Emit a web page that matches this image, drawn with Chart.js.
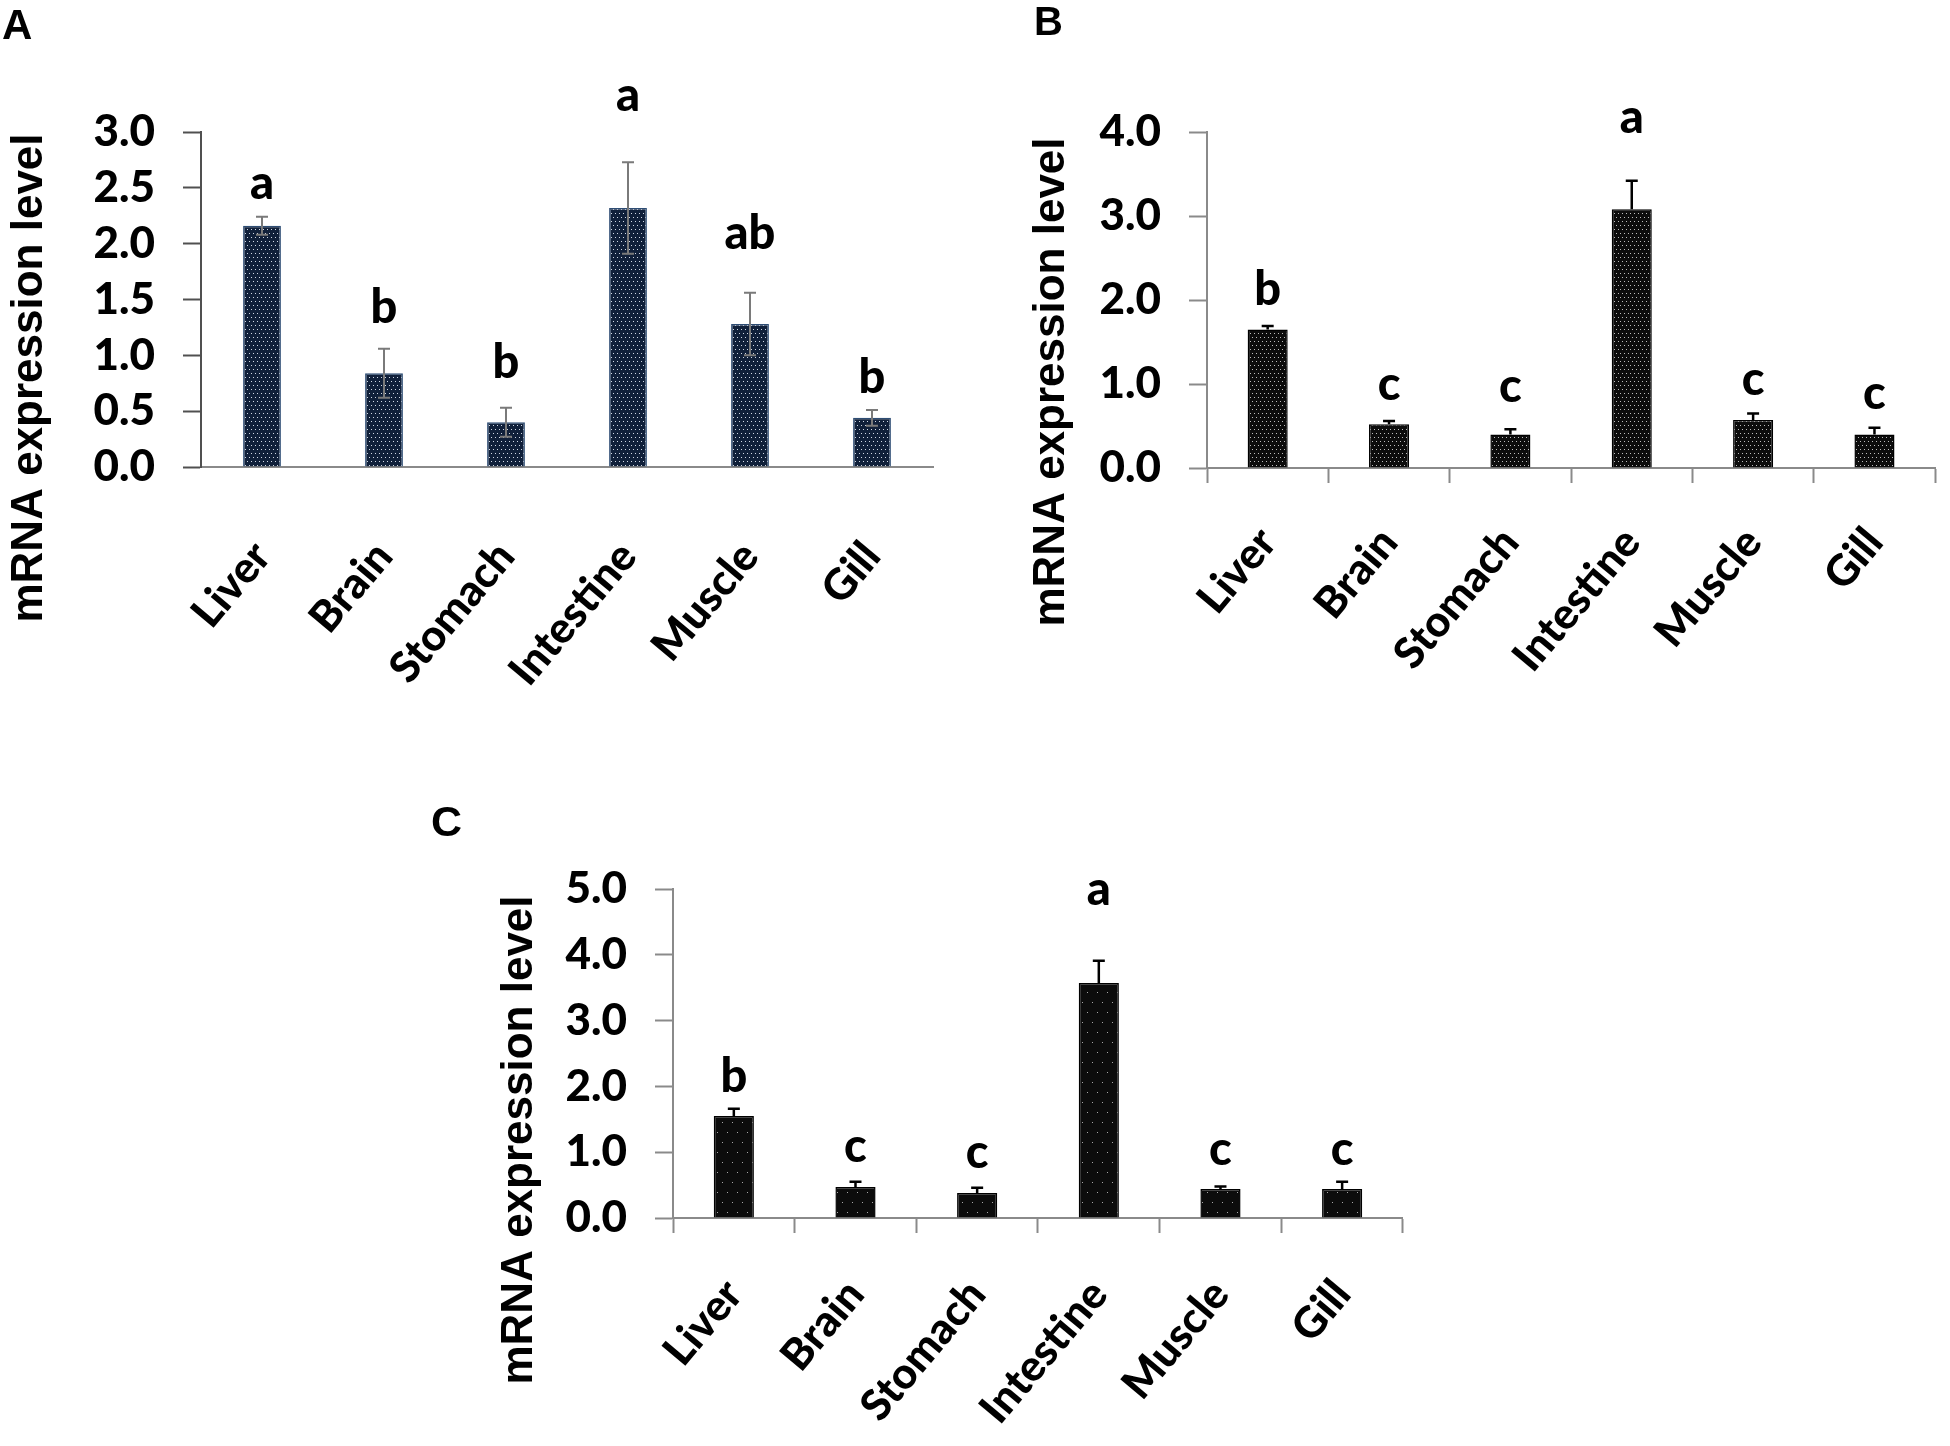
<!DOCTYPE html>
<html lang="en">
<head>
<meta charset="utf-8">
<title>mRNA expression level by tissue</title>
<script src="https://cdn.jsdelivr.net/npm/chart.js@4/dist/chart.umd.min.js"></script>
<style>
  html, body { margin: 0; padding: 0; background: #fff; }
  body { width: 1950px; height: 1446px; position: relative; overflow: hidden; }
  .panel { position: absolute; }
  .panel canvas { display: block; }
</style>
</head>
<body>
<div class="panel" style="left:0;top:0"><canvas id="panel-a" width="975" height="720"></canvas></div>
<div class="panel" style="left:975px;top:0"><canvas id="panel-b" width="975" height="720"></canvas></div>
<div class="panel" style="left:420px;top:780px"><canvas id="panel-c" width="1000" height="666"></canvas></div>
<script>
// Tissues, same order in the three panels
const TISSUES = ['Liver', 'Brain', 'Stomach', 'Intestine', 'Muscle', 'Gill'];
const Y_TITLE = 'mRNA expression level';

// Panel A
const MEAN_A = [2.16, 0.84, 0.40, 2.32, 1.28, 0.44];
const SD_A = [0.08, 0.22, 0.13, 0.41, 0.28, 0.07];
const GROUP_A = ['a', 'b', 'b', 'a', 'ab', 'b'];
const GROUP_AT_A = [2.40, 1.29, 0.80, 3.19, 1.95, 0.66];
const Y_MAX_A = 3.0;
const Y_STEP_A = 0.5;

// Panel B
const MEAN_B = [1.65, 0.52, 0.40, 3.08, 0.57, 0.40];
const SD_B = [0.04, 0.04, 0.06, 0.34, 0.08, 0.08];
const GROUP_B = ['b', 'c', 'c', 'a', 'c', 'c'];
const GROUP_AT_B = [1.94, 0.81, 0.79, 3.99, 0.87, 0.70];
const Y_MAX_B = 4.0;
const Y_STEP_B = 1.0;

// Panel C
const MEAN_C = [1.55, 0.47, 0.38, 3.57, 0.44, 0.44];
const SD_C = [0.11, 0.08, 0.08, 0.34, 0.04, 0.11];
const GROUP_C = ['b', 'c', 'c', 'a', 'c', 'c'];
const GROUP_AT_C = [1.91, 0.85, 0.76, 4.76, 0.81, 0.81];
const Y_MAX_C = 5.0;
const Y_STEP_C = 1.0;

const FONT_CALIBRI = 'Lato, "Open Sans", sans-serif';
const FONT_ARIAL = '"Liberation Sans", Arial, sans-serif';

// Dotted fill like the Excel pattern ("dotted grid")
function dotPattern(bg, dot, w, h, dots) {
  const c = document.createElement('canvas');
  c.width = w;
  c.height = h;
  const g = c.getContext('2d');
  g.fillStyle = bg;
  g.fillRect(0, 0, w, h);
  g.fillStyle = dot;
  dots.forEach(([x, y]) => g.fillRect(x, y, 1, 1));
  return g.createPattern(c, 'repeat');
}

const fineDots = [[1, 1], [5, 1], [3, 5], [7, 5]];

const PANELS = [
  {
    canvas: 'panel-a', letter: 'A', letterSize: 42,
    mean: MEAN_A, sd: SD_A, groups: GROUP_A, groupAt: GROUP_AT_A,
    yMax: Y_MAX_A, yStep: Y_STEP_A,
    box: { left: 201, right: 42, top: 132, bottom: 253 },
    letterAt: [2, 39], titleAt: [42, 378],
    fill: dotPattern('#10203a', '#d0d8e4', 8, 8, fineDots), border: '#2e4d74',
    barPct: 0.31, errColor: '#7a7a7a', errWidth: 2, bothWays: true,
    yAxisColor: '#505050', xAxisColor: '#8a8a8a', xTicks: false, labelPad: 50,
  },
  {
    canvas: 'panel-b', letter: 'B', letterSize: 40,
    mean: MEAN_B, sd: SD_B, groups: GROUP_B, groupAt: GROUP_AT_B,
    yMax: Y_MAX_B, yStep: Y_STEP_B,
    box: { left: 232, right: 12, top: 132, bottom: 252 },
    letterAt: [59, 35], titleAt: [89, 382],
    fill: dotPattern('#0c0c0c', '#bdbdbd', 8, 8, fineDots), border: '#000000',
    barPct: 0.33, errColor: '#000000', errWidth: 2.5, bothWays: false,
    yAxisColor: '#8a8a8a', xAxisColor: '#8a8a8a', xTicks: true, labelPad: 35,
  },
  {
    canvas: 'panel-c', letter: 'C', letterSize: 43,
    mean: MEAN_C, sd: SD_C, groups: GROUP_C, groupAt: GROUP_AT_C,
    yMax: Y_MAX_C, yStep: Y_STEP_C,
    box: { left: 253, right: 16, top: 109, bottom: 228 },
    letterAt: [11, 56], titleAt: [112, 360],
    fill: dotPattern('#0c0c0c', '#a8a8a8', 10, 20, [[2, 2], [7, 12]]), border: '#000000',
    barPct: 0.33, errColor: '#000000', errWidth: 2.5, bothWays: false,
    yAxisColor: '#8a8a8a', xAxisColor: '#8a8a8a', xTicks: true, labelPad: 37,
  },
];

// Error bars, group letters, rotated y title and the panel letter
function annotations(p) {
  return {
    id: 'annotations',
    afterDatasetsDraw(chart) {
      const { ctx, scales } = chart;
      const y = scales.y;
      const bars = chart.getDatasetMeta(0).data;

      ctx.save();
      ctx.strokeStyle = p.errColor;
      ctx.lineWidth = p.errWidth;
      bars.forEach((bar, i) => {
        const top = y.getPixelForValue(p.mean[i] + p.sd[i]);
        const bottom = p.bothWays ? y.getPixelForValue(p.mean[i] - p.sd[i]) : bar.y;
        ctx.beginPath();
        ctx.moveTo(bar.x, bottom);
        ctx.lineTo(bar.x, top);
        ctx.moveTo(bar.x - 6, top);
        ctx.lineTo(bar.x + 6, top);
        if (p.bothWays) {
          ctx.moveTo(bar.x - 6, bottom);
          ctx.lineTo(bar.x + 6, bottom);
        }
        ctx.stroke();
      });

      ctx.fillStyle = '#000';
      ctx.font = `900 47px ${FONT_CALIBRI}`;
      ctx.textAlign = 'center';
      ctx.textBaseline = 'alphabetic';
      bars.forEach((bar, i) => {
        ctx.fillText(p.groups[i], bar.x, y.getPixelForValue(p.groupAt[i]));
      });

      ctx.font = `bold 44px ${FONT_ARIAL}`;
      ctx.translate(p.titleAt[0], p.titleAt[1]);
      ctx.rotate(-Math.PI / 2);
      ctx.fillText(Y_TITLE, 0, 0);
      ctx.restore();

      ctx.save();
      ctx.fillStyle = '#000';
      ctx.font = `bold ${p.letterSize}px ${FONT_ARIAL}`;
      ctx.textAlign = 'left';
      ctx.textBaseline = 'alphabetic';
      ctx.fillText(p.letter, p.letterAt[0], p.letterAt[1]);
      ctx.restore();
    },
  };
}

function drawPanel(p) {
  const canvas = document.getElementById(p.canvas);
  return new Chart(canvas, {
    type: 'bar',
    data: {
      labels: TISSUES,
      datasets: [{
        data: p.mean,
        backgroundColor: p.fill,
        borderColor: p.border,
        borderWidth: 1.5,
        categoryPercentage: 1,
        barPercentage: p.barPct,
      }],
    },
    options: {
      responsive: false,
      animation: false,
      layout: { padding: { left: 0, top: p.box.top, right: p.box.right, bottom: 0 } },
      scales: {
        x: {
          grid: {
            display: p.xTicks,
            drawOnChartArea: false,
            tickLength: 15,
            tickWidth: 2,
            color: p.xAxisColor,
          },
          border: { display: true, color: p.xAxisColor, width: 2 },
          ticks: {
            autoSkip: false,
            minRotation: 50,
            maxRotation: 50,
            padding: p.labelPad,
            color: '#000',
            font: { family: FONT_CALIBRI, weight: '900', size: 43 },
          },
          afterFit(scale) { scale.height = p.box.bottom; },
        },
        y: {
          min: 0,
          max: p.yMax,
          grid: {
            drawOnChartArea: false,
            tickLength: 18,
            tickWidth: 2,
            color: p.yAxisColor,
          },
          border: { display: true, color: p.yAxisColor, width: 2 },
          ticks: {
            autoSkip: false,
            stepSize: p.yStep,
            padding: 28,
            color: '#000',
            font: { family: FONT_CALIBRI, weight: '900', size: 44 },
            callback: (v) => Number(v).toFixed(1),
          },
          afterFit(scale) { scale.width = p.box.left; },
        },
      },
      plugins: {
        legend: { display: false },
        tooltip: { enabled: false },
      },
    },
    plugins: [annotations(p)],
  });
}

PANELS.forEach(drawPanel);
</script>
</body>
</html>
